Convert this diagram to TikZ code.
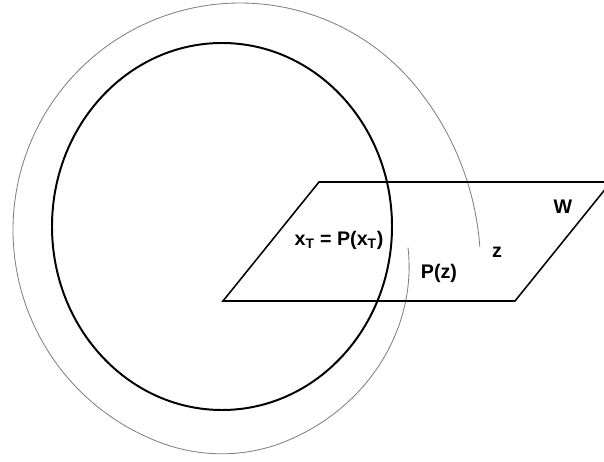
\documentclass[tikz,border=0pt]{standalone}
\usepackage{fontspec}
\setmainfont{Liberation Sans}
\usepackage{tikz}

\tikzset{lbl/.style={font=\bfseries\fontsize{14}{16}\selectfont, inner sep=1pt}}

\begin{document}
\begin{tikzpicture}[x=0.25cm,y=0.25cm,
  declare function={orb(\t)=1+0.0000243*(max(0,40-\t))^2
    -0.0000483*(min(max(0,\t-250),30))^2-0.0029*max(0,\t-280);}]
\useasboundingbox (0,0) rectangle (60.4,46.2);
\clip (0,0) rectangle (60.4,46.2);
% Orbit of z
\draw[gray, line width=0.6pt] plot[smooth, domain=-4:354, samples=150, variable=\t]
  ({24+22.7*orb(\t)*cos(\t)}, {23.2+22.7*orb(\t)*sin(\t)});
% Attractor
\draw[line width=1.4pt] (22.2,23.55) ellipse (17 and 18.35);
% Plane W
\draw[line width=1.1pt] (22.3,16.1) -- (51.5,16.1) -- (61.1,28.0) -- (31.9,28.0) -- cycle;
\node[lbl] (fix) at (33.9,22.2) {x\textsubscript{T} = P(x\textsubscript{T})};
\node[lbl] (pz) at (43.9,18.9) {P(z)};
\node[lbl] (z) at (49.7,21.0) {z};
\node[lbl] (w) at (56.3,25.5) {W};
\end{tikzpicture}
\end{document}
